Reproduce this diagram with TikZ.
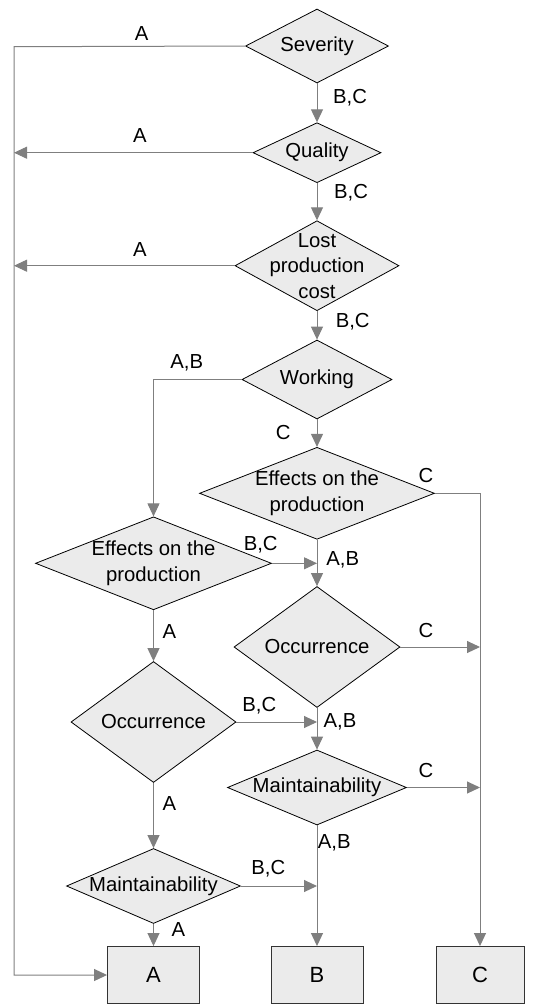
\documentclass[tikz,border=0pt]{standalone}
\usepackage{fontspec}
\setmainfont{Liberation Sans}
\usetikzlibrary{shapes.geometric,arrows.meta}
\definecolor{shade}{HTML}{EBEBEB}
\definecolor{wiregray}{HTML}{7F7F7F}
\begin{document}
\begin{tikzpicture}[x=1pt,y=-1pt,
  dec/.style={diamond, draw=black, line width=0.8pt, fill=shade,
    inner sep=-25pt, align=center, font=\fontsize{20.3}{25.5}\selectfont},
  outbox/.style={rectangle, draw=black!80, line width=0.9pt, fill=shade,
    minimum width=92pt, minimum height=57pt, font=\fontsize{22}{26}\selectfont},
  wire/.style={draw=wiregray, line width=1pt},
  arr/.style={wire, -{Triangle[length=13pt,width=12pt]}},
  lbl/.style={font=\fontsize{20.3}{23}\selectfont, inner sep=0pt}]
\useasboundingbox (0,0) rectangle (538,1005);

% decision diamonds, right column
\node[dec, minimum width=143pt, minimum height=74pt] (sev) at (317,46) {Severity};
\node[dec, minimum width=128pt, minimum height=60pt] (qual) at (317,152.7) {Quality};
\node[dec, minimum width=164pt, minimum height=90pt] (lpc) at (317,265.7) {Lost\\production\\cost};
\node[dec, minimum width=150pt, minimum height=79pt] (work) at (317,379.5) {Working};
\node[dec, minimum width=235pt, minimum height=92pt] (effR) at (317,493.3) {Effects on the\\production};
\node[dec, minimum width=166pt, minimum height=121pt] (occR) at (317,647) {Occurrence};
\node[dec, minimum width=179pt, minimum height=75pt] (maintR) at (317,787.5) {Maintainability};

% decision diamonds, left column
\node[dec, minimum width=236pt, minimum height=93pt] (effL) at (153.5,563.3) {Effects on the\\production};
\node[dec, minimum width=165pt, minimum height=121pt] (occL) at (153.5,722) {Occurrence};
\node[dec, minimum width=174pt, minimum height=75pt] (maintL) at (153.5,886) {Maintainability};

% outcome boxes
\node[outbox] (boxA) at (153.5,975) {A};
\node[outbox] (boxB) at (317,975) {B};
\node[outbox, minimum width=88pt] (boxC) at (480,975) {C};

% left rail
\coordinate (railtop) at (14,46.7);
\coordinate (railbot) at (14,975);

% connectors
\draw[arr] (sev.west) -- (railtop) -- (railbot) -- (boxA.west);
\draw[arr] (sev.south) -- (qual.north);
\draw[arr] (qual.west) -- (qual.west -| railtop);
\draw[arr] (qual.south) -- (lpc.north);
\draw[arr] (lpc.west) -- (lpc.west -| railtop);
\draw[arr] (lpc.south) -- (work.north);
\draw[arr] (work.west) -| (effL.north);
\draw[arr] (work.south) -- (effR.north);
\draw[arr] (effR.east) -| (boxC.north);
\draw[arr] (effR.south) -- (occR.north);
\draw[arr] (effL.east) -- (effL.east -| occR.north);
\draw[arr] (effL.south) -- (occL.north);
\draw[arr] (occR.east) -- (occR.east -| boxC.north);
\draw[arr] (occR.south) -- (maintR.north);
\draw[arr] (occL.east) -- (occL.east -| maintR.north);
\draw[arr] (occL.south) -- (maintL.north);
\draw[arr] (maintR.east) -- (maintR.east -| boxC.north);
\draw[arr] (maintR.south) -- (boxB.north);
\draw[arr] (maintL.east) -- (maintL.east -| boxB.north);
\draw[arr] (maintL.south) -- (boxA.north);

% branch labels
\node[lbl] (l1) at (141.7,34) {A};
\node[lbl] (l2) at (350,98) {B,C};
\node[lbl] (l3) at (140,136) {A};
\node[lbl] (l4) at (351,193) {B,C};
\node[lbl] (l5) at (140,249.3) {A};
\node[lbl] (l6) at (352.7,321.7) {B,C};
\node[lbl] (l7) at (186.7,363.3) {A,B};
\node[lbl] (l8) at (283.3,432.3) {C};
\node[lbl] (l9) at (426,476) {C};
\node[lbl] (l10) at (342.7,560) {A,B};
\node[lbl] (l11) at (260.7,544.3) {B,C};
\node[lbl] (l12) at (169.3,631.7) {A};
\node[lbl] (l13) at (426,630.7) {C};
\node[lbl] (l14) at (340,721.7) {A,B};
\node[lbl] (l15) at (259.3,705.7) {B,C};
\node[lbl] (l16) at (169.3,804) {A};
\node[lbl] (l17) at (426,770.7) {C};
\node[lbl] (l18) at (334.3,843.3) {A,B};
\node[lbl] (l19) at (268.3,868.3) {B,C};
\node[lbl] (l20) at (178.3,929.3) {A};
\end{tikzpicture}
\end{document}
